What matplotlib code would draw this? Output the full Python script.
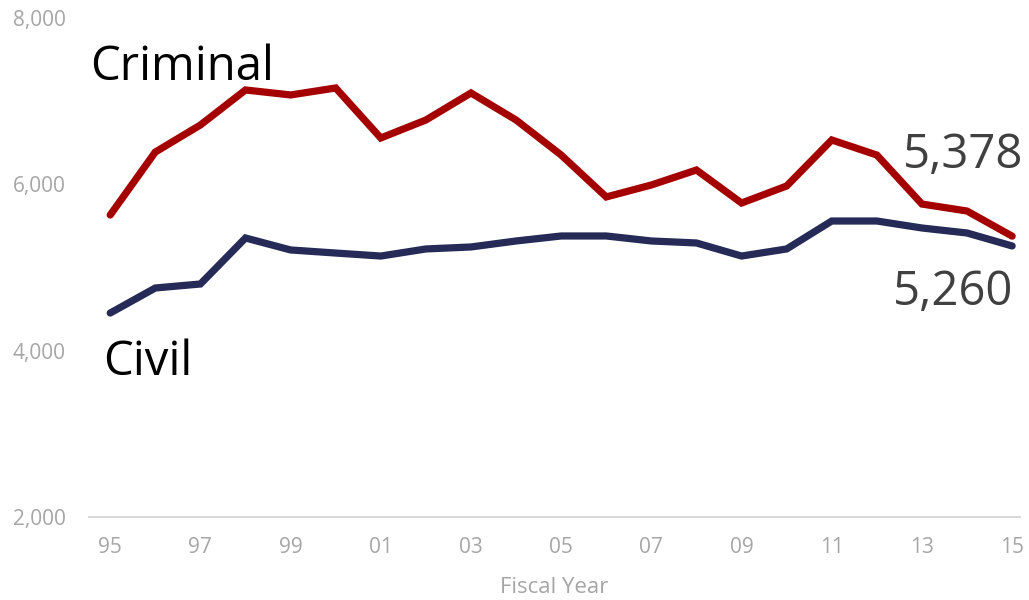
import matplotlib
matplotlib.use("Agg")
import matplotlib.pyplot as plt

plt.rcParams['font.family'] = ['Open Sans', 'DejaVu Sans']

years = ["95", "96", "97", "98", "99", "00", "01", "02", "03", "04", "05",
         "06", "07", "08", "09", "10", "11", "12", "13", "14", "15"]
criminal = [5632, 6389, 6714, 7135, 7075, 7159, 6558, 6774, 7099, 6774, 6353,
            5849, 5993, 6173, 5776, 5981, 6534, 6353, 5764, 5680, 5378]
civil = [4454, 4755, 4803, 5356, 5212, 5175, 5139, 5224, 5248, 5320, 5380,
         5380, 5320, 5296, 5139, 5224, 5560, 5560, 5476, 5416, 5260]
yticks = [2000, 4000, 6000, 8000]

fig = plt.figure(figsize=(10.29, 6.0), dpi=100)
ax = fig.add_axes([0.0865, 0.138, 0.905, 0.832])

x = list(range(len(years)))
ax.plot(x, criminal, color="#A50000", lw=5.2, solid_capstyle="round", solid_joinstyle="miter")
ax.plot(x, civil, color="#252A56", lw=5.2, solid_capstyle="round", solid_joinstyle="miter")

ax.set_ylim(2000, 8000)
ax.set_xlim(-0.47, 20.18)
ax.set_yticks(yticks)
ax.set_yticklabels([f"{v:,}" for v in yticks])
ax.set_xticks(x[::2])
ax.set_xticklabels(years[::2])
for s in ["top", "right", "left"]:
    ax.spines[s].set_visible(False)
ax.spines["bottom"].set_color("#D9D9D9")
ax.spines["bottom"].set_linewidth(1.5)
ax.tick_params(axis="both", length=0, colors="#A6A6A6", labelsize=15)
ax.tick_params(axis="x", pad=14)
ax.tick_params(axis="y", pad=17)
ax.set_xlabel("Fiscal Year", color="#A6A6A6", fontsize=16, labelpad=14)

ax.text(-0.44, 7255, "Criminal", fontsize=34, color="black", ha="left", va="baseline")
ax.text(-0.16, 3708, "Civil", fontsize=34, color="black", ha="left", va="baseline")
ax.text(20.24, 6196, f"{criminal[-1]:,}", fontsize=34, color="#404040", ha="right", va="baseline")
ax.text(20.02, 4549, f"{civil[-1]:,}", fontsize=34, color="#404040", ha="right", va="baseline")

fig.savefig("out.png", dpi=100)
